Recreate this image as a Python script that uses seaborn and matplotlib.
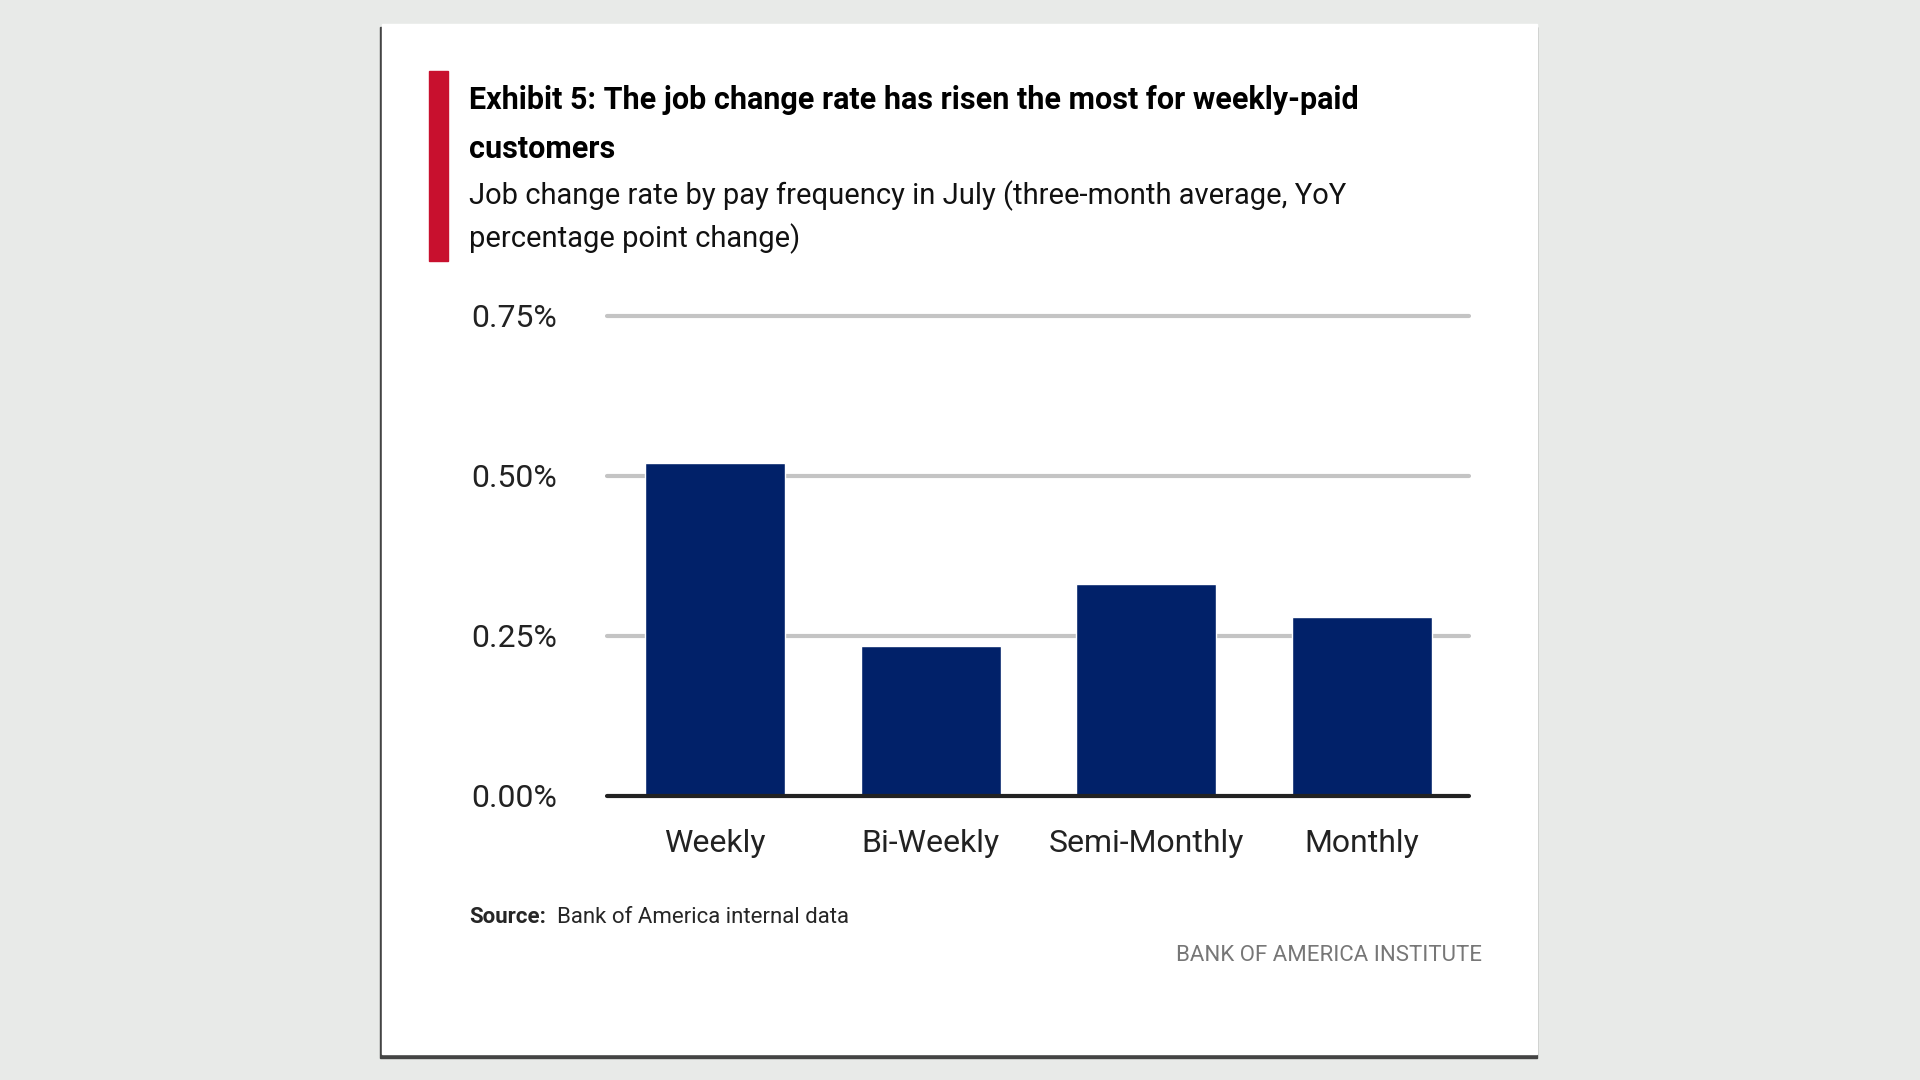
import matplotlib
matplotlib.use("Agg")
import matplotlib.pyplot as plt
from matplotlib.patches import Rectangle
import seaborn as sns
import pandas as pd

categories = ["Weekly", "Bi-Weekly", "Semi-Monthly", "Monthly"]
values = [0.52, 0.235, 0.331, 0.279]
yticks = [0.0, 0.25, 0.50, 0.75]
ytick_labels = ["0.00%", "0.25%", "0.50%", "0.75%"]

W, H = 1568, 882
def fx(x): return x / W
def fy(y): return 1 - y / H

sns.set_style("white")
plt.rcParams["font.family"] = ["Roboto", "DejaVu Sans"]

fig = plt.figure(figsize=(19.2, 10.8), dpi=100)
fig.patch.set_facecolor("#e8eae8")

# card with shadow
fig.patches.append(Rectangle((fx(310), fy(864)), fx(1255 - 310), (864 - 22) / H,
                             transform=fig.transFigure, color="#444444", zorder=0))
fig.patches.append(Rectangle((fx(312), fy(861)), fx(1255 - 312), (861 - 20) / H,
                             transform=fig.transFigure, color="white", zorder=0))
# red accent
fig.patches.append(Rectangle((fx(350), fy(213)), fx(16), (213 - 58) / H,
                             transform=fig.transFigure, color="#c8102e", zorder=1))

fig.text(fx(383), fy(82), "Exhibit 5: The job change rate has risen the most for weekly-paid",
         fontsize=22, fontweight="bold", va="center", color="black")
fig.text(fx(383), fy(122), "customers", fontsize=22, fontweight="bold", va="center", color="black")
fig.text(fx(383), fy(160), "Job change rate by pay frequency in July (three-month average, YoY",
         fontsize=21, va="center", color="#111111")
fig.text(fx(383), fy(195), "percentage point change)", fontsize=21, va="center", color="#111111")

ax = fig.add_axes([fx(496), fy(650), fx(1200 - 496), (650 - 258) / H])
ax.set_zorder(5)
df = pd.DataFrame({"cat": categories, "val": values})
sns.barplot(data=df, x="cat", y="val", color="#012169", width=0.65, saturation=1, ax=ax, zorder=3)
ax.set_xlim(-0.5, 3.5)
ax.set_ylim(0, 0.75)
for t in yticks[1:]:
    ax.axhline(t, color="#c4c4c4", lw=3, zorder=1, clip_on=False)
ax.axhline(0, color="#222222", lw=3, zorder=4, clip_on=False)
ax.set_yticks(yticks)
ax.set_yticklabels(ytick_labels, fontsize=23, color="#222222")
ax.tick_params(axis="y", length=0, pad=36)
ax.tick_params(axis="x", length=0, pad=24, labelsize=23)
for lab in ax.get_xticklabels():
    lab.set_color("#222222")
ax.set_xlabel("")
ax.set_ylabel("")
sns.despine(ax=ax, left=True, bottom=True)
ax.set_facecolor("none")

fig.text(fx(383), fy(749), "Source:", fontsize=16, va="center", fontweight="bold")
fig.text(fx(455), fy(749), "Bank of America internal data", fontsize=16, va="center")
fig.text(fx(1210), fy(780), "BANK OF AMERICA INSTITUTE", fontsize=16, va="center", ha="right",
         color="#777777")

fig.savefig("out.png", dpi=100, facecolor=fig.get_facecolor())
